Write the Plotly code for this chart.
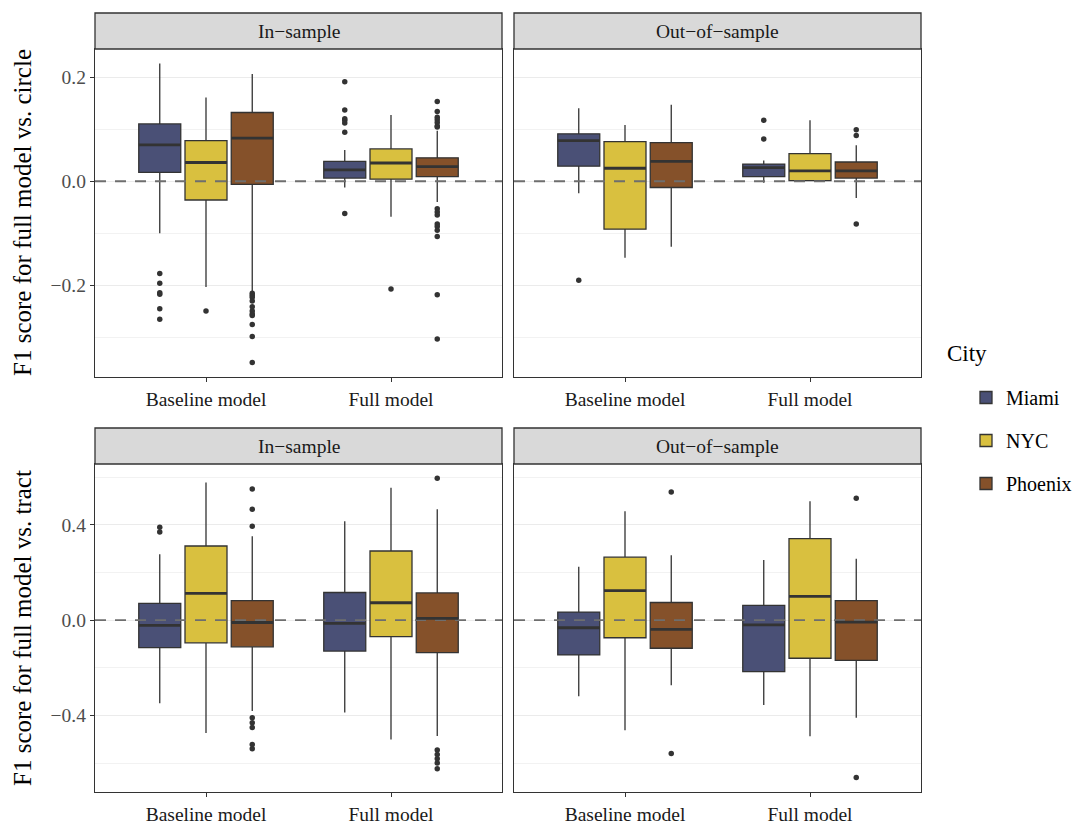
import plotly.graph_objects as go
from plotly.subplots import make_subplots

# ---------------- data ----------------
cities = ["Miami", "NYC", "Phoenix"]
models = ["Baseline model", "Full model"]
samples = ["In\u2212sample", "Out\u2212of\u2212sample"]
row_titles = ["F1 score for full model vs. circle", "F1 score for full model vs. tract"]
legend_title = "City"

# rows of each array = model (Baseline, Full); columns = city (Miami, NYC, Phoenix)
# --- vs. circle, In-sample
circ_in_lo = [[-0.100, -0.203, -0.212], [-0.012, -0.068, -0.040]]
circ_in_q1 = [[0.017, -0.036, -0.006], [0.006, 0.004, 0.009]]
circ_in_med = [[0.070, 0.036, 0.083], [0.022, 0.035, 0.028]]
circ_in_q3 = [[0.110, 0.078, 0.132], [0.038, 0.062, 0.045]]
circ_in_hi = [[0.226, 0.161, 0.206], [0.060, 0.127, 0.097]]
circ_in_out = [
    [[-0.177, -0.196, -0.214, -0.217, -0.245, -0.265],
     [-0.249],
     [-0.215, -0.219, -0.223, -0.230, -0.241, -0.249, -0.255, -0.258, -0.275, -0.298, -0.348]],
    [[0.191, 0.137, 0.120, 0.117, 0.112, 0.094, -0.062],
     [-0.207],
     [0.153, 0.134, 0.123, 0.118, 0.113, 0.106, 0.104, -0.053, -0.059, -0.065,
      -0.082, -0.087, -0.094, -0.106, -0.218, -0.303]],
]
# --- vs. circle, Out-of-sample
circ_out_lo = [[-0.023, -0.147, -0.126], [-0.003, 0.000, -0.032]]
circ_out_q1 = [[0.029, -0.092, -0.012], [0.009, 0.001, 0.006]]
circ_out_med = [[0.078, 0.025, 0.038], [0.026, 0.020, 0.020]]
circ_out_q3 = [[0.091, 0.076, 0.074], [0.033, 0.053, 0.037]]
circ_out_hi = [[0.140, 0.108, 0.147], [0.040, 0.117, 0.069]]
circ_out_out = [
    [[-0.190], [], []],
    [[0.117, 0.081], [], [0.099, 0.088, -0.082]],
]
# --- vs. tract, In-sample
tract_in_lo = [[-0.349, -0.473, -0.381], [-0.387, -0.501, -0.486]]
tract_in_q1 = [[-0.115, -0.095, -0.112], [-0.130, -0.069, -0.136]]
tract_in_med = [[-0.022, 0.112, -0.010], [-0.014, 0.073, 0.007]]
tract_in_q3 = [[0.070, 0.311, 0.082], [0.116, 0.290, 0.114]]
tract_in_hi = [[0.276, 0.577, 0.352], [0.415, 0.555, 0.465]]
tract_in_out = [
    [[0.390, 0.370], [], [0.550, 0.465, 0.394, -0.410, -0.431, -0.450, -0.522, -0.540]],
    [[], [], [0.595, -0.545, -0.564, -0.581, -0.599, -0.623]],
]
# --- vs. tract, Out-of-sample
tract_out_lo = [[-0.319, -0.462, -0.273], [-0.356, -0.487, -0.410]]
tract_out_q1 = [[-0.146, -0.074, -0.118], [-0.216, -0.160, -0.169]]
tract_out_med = [[-0.032, 0.124, -0.039], [-0.020, 0.100, -0.008]]
tract_out_q3 = [[0.034, 0.264, 0.074], [0.062, 0.342, 0.082]]
tract_out_hi = [[0.224, 0.457, 0.272], [0.252, 0.499, 0.258]]
tract_out_out = [
    [[], [], [0.538, -0.559]],
    [[], [], [0.511, -0.660]],
]

top_ticks = [-0.2, 0.0, 0.2]
top_minor = [-0.3, -0.1, 0.1]
bot_ticks = [-0.4, 0.0, 0.4]
bot_minor = [-0.6, -0.2, 0.2, 0.6]
top_range = [-0.376, 0.254]
bot_range = [-0.721, 0.655]
x_range = [0.4, 2.6]
ref_value = 0.0

# ---------------- style ----------------
city_colors = ["#4A5076", "#D9C03F", "#85512A"]
dark = "#333333"
FONT = "Liberation Serif"
box_w = 0.227
dodge = [-0.25, 0.0, 0.25]

panels = [
    dict(row=1, col=1, lo=circ_in_lo, q1=circ_in_q1, med=circ_in_med, q3=circ_in_q3, hi=circ_in_hi, out=circ_in_out),
    dict(row=1, col=2, lo=circ_out_lo, q1=circ_out_q1, med=circ_out_med, q3=circ_out_q3, hi=circ_out_hi, out=circ_out_out),
    dict(row=2, col=1, lo=tract_in_lo, q1=tract_in_q1, med=tract_in_med, q3=tract_in_q3, hi=tract_in_hi, out=tract_in_out),
    dict(row=2, col=2, lo=tract_out_lo, q1=tract_out_q1, med=tract_out_med, q3=tract_out_q3, hi=tract_out_hi, out=tract_out_out),
]

fig = make_subplots(rows=2, cols=2)

legend_done = set()
for p in panels:
    r, c = p["row"], p["col"]
    # dashed reference line at zero (drawn beneath the boxes)
    fig.add_trace(go.Scatter(
        x=x_range, y=[ref_value, ref_value], mode="lines",
        line=dict(color="#6E6E6E", width=1.8, dash="11px,9px"),
        showlegend=False, hoverinfo="skip",
    ), row=r, col=c)
    for mi, m in enumerate(models):
        for ci, city in enumerate(cities):
            xpos = mi + 1 + dodge[ci]
            show = city not in legend_done
            legend_done.add(city)
            fig.add_trace(go.Box(
                x=[xpos], q1=[p["q1"][mi][ci]], median=[p["med"][mi][ci]], q3=[p["q3"][mi][ci]],
                lowerfence=[p["lo"][mi][ci]], upperfence=[p["hi"][mi][ci]],
                width=box_w, whiskerwidth=0, boxpoints=False,
                fillcolor=city_colors[ci], line=dict(color=dark, width=1.3),
                name=city, legendgroup=city, showlegend=show,
            ), row=r, col=c)
            # thicker median line (ggplot style)
            fig.add_trace(go.Scatter(
                x=[xpos - box_w / 2, xpos + box_w / 2],
                y=[p["med"][mi][ci], p["med"][mi][ci]],
                mode="lines", line=dict(color=dark, width=2.8),
                showlegend=False, hoverinfo="skip",
            ), row=r, col=c)
            outs = p["out"][mi][ci]
            if outs:
                fig.add_trace(go.Scatter(
                    x=[xpos] * len(outs), y=outs, mode="markers",
                    marker=dict(color=dark, size=5.5),
                    showlegend=False, hoverinfo="skip",
                ), row=r, col=c)

# ---------------- layout ----------------
L, R, T, B = 95, 162, 13, 37
W, H = 1083, 829
pw, ph = W - L - R, H - T - B


def fx(px):
    return (px - L) / pw


def fy(py):
    return (H - B - py) / ph


xdom_left = [0, fx(502)]
xdom_right = [fx(514), 1]
ydom_top = [fy(377), fy(49)]
ydom_bot = [0, fy(464)]

axis_common = dict(showline=True, mirror=True, linecolor=dark, linewidth=1.3,
                   ticks="outside", ticklen=4, tickcolor=dark, tickwidth=1.1,
                   tickfont=dict(family=FONT, size=19.5, color="#4D4D4D"),
                   zeroline=False, automargin=False)

layout_axes = {}
names = [("xaxis", "yaxis"), ("xaxis2", "yaxis2"), ("xaxis3", "yaxis3"), ("xaxis4", "yaxis4")]
for k, (xa, ya) in enumerate(names):
    top = k < 2
    left = k % 2 == 0
    layout_axes[xa] = dict(axis_common, domain=xdom_left if left else xdom_right,
                           range=x_range, tickvals=[1, 2], ticktext=models,
                           showgrid=False, tickfont=dict(family=FONT, size=19.5, color="#1A1A1A"))
    ydict = dict(axis_common, domain=ydom_top if top else ydom_bot,
                 range=top_range if top else bot_range,
                 tickvals=top_ticks if top else bot_ticks, tickformat=".1f",
                 showgrid=True, gridcolor="#EBEBEB", gridwidth=1.1,
                 minor=dict(tickvals=top_minor if top else bot_minor, showgrid=True,
                            gridcolor="#F2F2F2", gridwidth=0.7, ticks=""))
    if not left:
        ydict.update(showticklabels=False, ticks="")
    layout_axes[ya] = ydict

fig.update_layout(**layout_axes)

shapes = []
annotations = []
strip_h = 36 / ph
for k, (xa, ya) in enumerate(names):
    xr = ("x" if k == 0 else f"x{k+1}") + " domain"
    top = k < 2
    dtop = ydom_top[1] if top else ydom_bot[1]
    shapes.append(dict(type="rect", xref=xr, x0=0, x1=1, yref="paper", y0=dtop, y1=dtop + strip_h,
                       fillcolor="#D9D9D9", line=dict(color=dark, width=1.3), layer="above"))
    annotations.append(dict(text=samples[k % 2], xref=xr, x=0.5, yref="paper", y=dtop + strip_h / 2,
                            showarrow=False, xanchor="center", yanchor="middle",
                            font=dict(family=FONT, size=19.5, color="#1A1A1A")))

for i, t in enumerate(row_titles):
    yc = (ydom_top[0] + ydom_top[1]) / 2 if i == 0 else (ydom_bot[0] + ydom_bot[1]) / 2
    annotations.append(dict(text=t, xref="paper", x=0, xshift=-73, yref="paper", y=yc,
                            textangle=-90, showarrow=False, xanchor="center", yanchor="middle",
                            font=dict(family=FONT, size=25, color="#000000")))

# legend title placed as its own text
annotations.append(dict(text=legend_title, xref="paper", x=fx(945), yref="paper", y=fy(353),
                        showarrow=False, xanchor="left", yanchor="middle",
                        font=dict(family=FONT, size=23, color="#000000")))

fig.update_layout(
    width=W, height=H,
    margin=dict(l=L, r=R, t=T, b=B, autoexpand=False),
    paper_bgcolor="white", plot_bgcolor="white",
    boxmode="overlay",
    shapes=shapes, annotations=annotations,
    font=dict(family=FONT, color="#000000"),
    hovermode=False,
    legend=dict(font=dict(family=FONT, size=20, color="#000000"),
                x=fx(966), xanchor="left", y=fy(378), yanchor="top",
                tracegroupgap=14, bgcolor="rgba(0,0,0,0)"),
)

fig.write_html("out.html", config={"displayModeBar": False},
               post_script="document.body.style.margin='0px';document.body.style.padding='0px';")
